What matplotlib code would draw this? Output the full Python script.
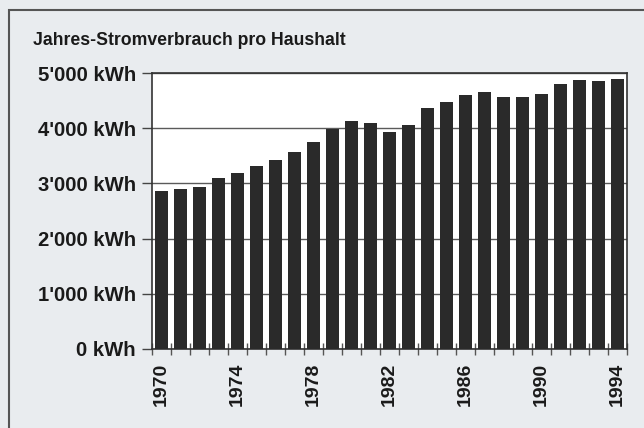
import numpy as np
import matplotlib.pyplot as plt
from matplotlib.patches import Rectangle

plt.rcParams['font.family'] = ['Liberation Sans', 'DejaVu Sans']

# Annual household electricity use (kWh)
years = list(range(1970, 1995))
kwh = [2860, 2890, 2930, 3100, 3190, 3310, 3420, 3570, 3745, 3990,
       4125, 4100, 3925, 4050, 4360, 4475, 4595, 4650, 4565, 4565,
       4625, 4800, 4880, 4860, 4885]
y_ticks = [0, 1000, 2000, 3000, 4000, 5000]
y_labels = ["0 kWh", "1'000 kWh", "2'000 kWh", "3'000 kWh", "4'000 kWh", "5'000 kWh"]
label_years = [1970, 1974, 1978, 1982, 1986, 1990, 1994]

fig = plt.figure(figsize=(6.44, 4.28), dpi=100, facecolor='#e9ecef')
ax = fig.add_axes([0.236, 0.1846, 0.7376, 0.6448])

x = np.arange(len(years))
ax.bar(x, kwh, width=0.65, color='#2a2a2a', zorder=3)

ax.set_xlim(-0.5, len(years) - 0.5)
ax.set_ylim(0, 5000)
ax.set_yticks(y_ticks)
ax.set_yticklabels(y_labels, fontsize=14.6, fontweight='bold', color='#1a1a1a')
ax.tick_params(axis='y', direction='out', length=7.5, width=1, color='#444444', pad=4)

idx = [years.index(y) for y in label_years]
ax.set_xticks(idx)
ax.set_xticklabels([str(y) for y in label_years], rotation=90, fontsize=14,
                   fontweight='bold', color='#1a1a1a')
ax.tick_params(axis='x', which='major', length=0, pad=10)
ax.set_xticks(np.arange(-0.5, len(years)), minor=True)
ax.tick_params(axis='x', which='minor', direction='inout', length=9, width=1, color='#555555')

ax.yaxis.grid(True, color='#5a5a5a', linewidth=1, zorder=0)
for s in ax.spines.values():
    s.set_color('#333333')
    s.set_linewidth(1.2)

fig.text(0.052, 0.906, 'Jahres-Stromverbrauch pro Haushalt', fontsize=12.7,
         fontweight='bold', color='#1a1a1a', va='center', ha='left')

# outer frame
fig.patches.append(Rectangle((9 / 644, -0.1), 1.2, 1.1 - 10 / 428,
                             transform=fig.transFigure, fill=False,
                             edgecolor='#555555', linewidth=1.5))

fig.savefig('out.png', dpi=100, facecolor=fig.get_facecolor())
